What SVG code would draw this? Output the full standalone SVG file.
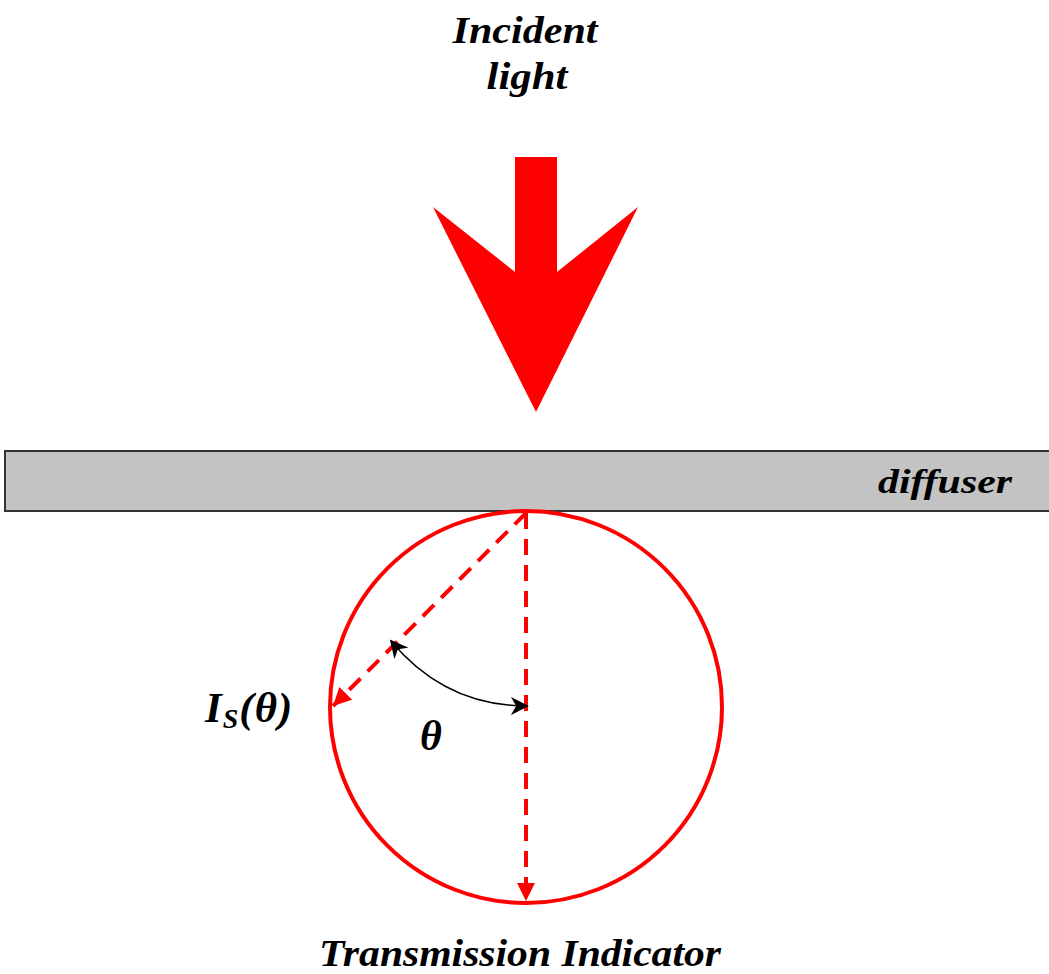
<svg xmlns="http://www.w3.org/2000/svg" width="1049" height="974" viewBox="0 0 1049 974">
<style>
.lbl{font-family:"Liberation Serif","DejaVu Serif",serif;font-weight:bold;font-style:italic;fill:#000}
.dash{stroke:#ff0000;stroke-width:4;stroke-dasharray:16 10;fill:none}
</style>
<defs>
<marker id="redHead" viewBox="0 0 10 10" refX="10" refY="5" markerWidth="18" markerHeight="18" markerUnits="userSpaceOnUse" orient="auto">
<path d="M0,0 L10,5 L0,10 Z" fill="#ff0000"/>
</marker>
<marker id="blkHead" viewBox="0 0 10 10" refX="9" refY="5" markerWidth="18" markerHeight="18" markerUnits="userSpaceOnUse" orient="auto-start-reverse">
<path d="M0,0 L10,5 L0,10 L3,5 Z" fill="#000"/>
</marker>
</defs>
<rect width="1049" height="974" fill="#fff"/>
<g id="incident-label">
<text class="lbl" x="525" y="43" font-size="38" text-anchor="middle" textLength="145" lengthAdjust="spacingAndGlyphs">Incident</text>
<text class="lbl" x="527" y="89" font-size="38" text-anchor="middle" textLength="81" lengthAdjust="spacingAndGlyphs">light</text>
</g>
<g id="incident-arrow">
<polygon points="515,157 557,157 557,272 638,207 536,412 433,207 515,272" fill="#ff0000"/>
</g>
<g id="diffuser">
<rect x="5" y="451" width="1050" height="60" fill="#c3c3c3" stroke="#333" stroke-width="2"/>
<text class="lbl" x="1012" y="493" font-size="34" text-anchor="end" textLength="134" lengthAdjust="spacingAndGlyphs">diffuser</text>
</g>
<g id="indicator">
<circle cx="526" cy="707" r="196" fill="none" stroke="#ff0000" stroke-width="4"/>
</g>
<g id="connectors">
<line class="dash" x1="526" y1="513" x2="526" y2="901" marker-end="url(#redHead)"/>
<line class="dash" x1="526" y1="513" x2="333" y2="706" marker-end="url(#redHead)"/>
<path d="M391,641 Q445,706 527,706" fill="none" stroke="#000" stroke-width="1.5" marker-start="url(#blkHead)" marker-end="url(#blkHead)"/>
</g>
<g id="labels">
<text class="lbl" x="205" y="722" font-size="43" letter-spacing="1">I<tspan font-size="28" dy="6">S</tspan><tspan dy="-6">(θ)</tspan></text>
<text class="lbl" x="420" y="750" font-size="42">θ</text>
<text class="lbl" x="520" y="966" font-size="37" text-anchor="middle" textLength="402" lengthAdjust="spacingAndGlyphs">Transmission Indicator</text>
</g>
</svg>
